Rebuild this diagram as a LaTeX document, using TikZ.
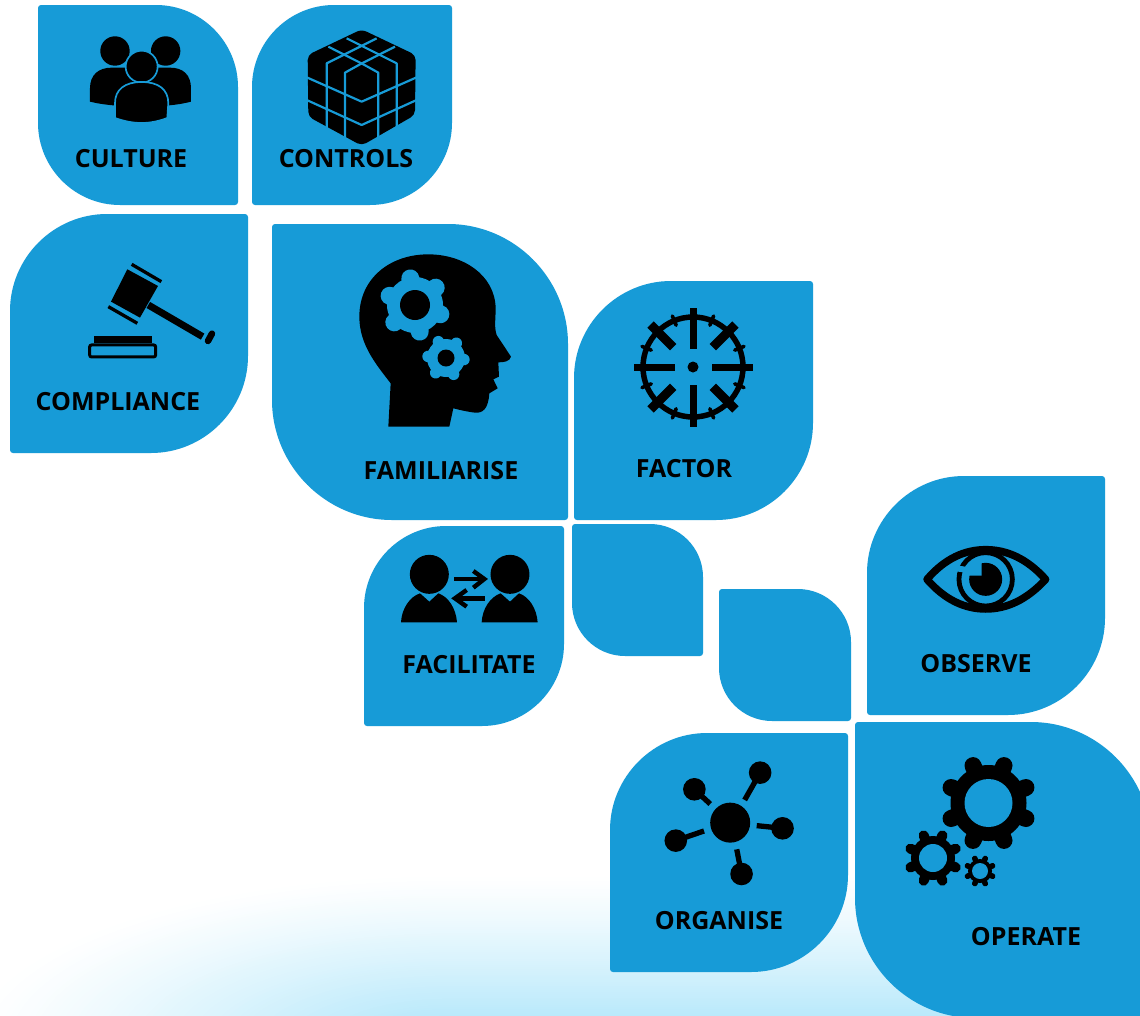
\documentclass[tikz,border=0pt]{standalone}
\usepackage{fontspec}
\setmainfont{Open Sans}
\definecolor{tileblue}{HTML}{179BD7}
\definecolor{glowblue}{HTML}{A9E4FA}
\newcommand\tileA[5]{% large corners top right and bottom left
 \fill[tileblue] ({#1+3},#2) -- ({#3-#5},#2) .. controls ({#3-.45*#5},#2) and (#3,{#2+.45*#5}) .. (#3,{#2+#5})
 -- (#3,{#4-3}) .. controls (#3,{#4-1.3}) and ({#3-1.3},#4) .. ({#3-3},#4)
 -- ({#1+#5},#4) .. controls ({#1+.45*#5},#4) and (#1,{#4-.45*#5}) .. (#1,{#4-#5})
 -- (#1,{#2+3}) .. controls (#1,{#2+1.3}) and ({#1+1.3},#2) .. ({#1+3},#2) -- cycle;}
\newcommand\tileB[5]{% large corners top left and bottom right
 \fill[tileblue] ({#1+#5},#2) -- ({#3-3},#2) .. controls ({#3-1.3},#2) and (#3,{#2+1.3}) .. (#3,{#2+3})
 -- (#3,{#4-#5}) .. controls (#3,{#4-.45*#5}) and ({#3-.45*#5},#4) .. ({#3-#5},#4)
 -- ({#1+3},#4) .. controls ({#1+1.3},#4) and (#1,{#4-1.3}) .. (#1,{#4-3})
 -- (#1,{#2+#5}) .. controls (#1,{#2+.45*#5}) and ({#1+.45*#5},#2) .. ({#1+#5},#2) -- cycle;}
% cx cy body tooth-end hole n rot width fg
\newcommand\gearicon[9]{%
 \fill[#9] (#1,#2) circle[radius=#3pt];
 \pgfmathsetmacro\gstep{360/#6}
 \foreach \k in {1,...,#6}{
  \pgfmathsetmacro\ga{#7+\k*\gstep}
  \draw[#9,line width=#8pt,line cap=round] (#1,#2) -- ($(#1,#2)+(\ga:#4)$);
 }
 \fill[\gearbg] (#1,#2) circle[radius=#5pt];}
\usetikzlibrary{calc}
\tikzset{tilelabel/.style={font=\bfseries\fontsize{25}{25}\selectfont,text=black,inner sep=0pt},
 zoomed/.style={x=0.3333pt,y=-0.3333pt}}
\begin{document}
\begin{tikzpicture}[x=1pt,y=-1pt]
\useasboundingbox (0,0) rectangle (1140,1015);
\clip (0,0) rectangle (1140,1015);
\fill[white] (0,0) rectangle (1140,1015);
% background glow: nested opaque shapes from white to the glow colour
\foreach \i in {1,...,80}{
 \pgfmathsetmacro\s{1-\i/80}
 \pgfmathsetmacro\p{100*(\i/80)^1.2}
 \pgfmathsetmacro\ra{480*\s+2}
 \pgfmathsetmacro\rb{168*\s+2}
 \fill[glowblue!\p!white] (1200,{1045-\rb}) -- (450,{1045-\rb}) .. controls ({450-.55*\ra},{1045-\rb}) and ({450-\ra},{1045-.55*\rb}) .. ({450-\ra},1045) -- ({450-\ra},1100) -- (1200,1100) -- cycle;
}
% tiles
\tileA{38}{5}{238}{205}{82}
\tileB{252}{5}{452}{205}{82}
\tileB{10}{214}{248}{453}{97}
\tileA{272}{224}{568}{520}{120}
\tileB{574}{281}{813}{520}{97}
\tileB{364}{526}{564}{726}{82}
\tileA{572}{524}{703}{656}{53}
\tileA{719}{589}{851}{721}{53}
\tileB{867}{476}{1105}{715}{97}
\tileB{610}{733}{848}{972}{97}
\tileA{855}{722}{1151}{1018}{120}
% labels
\node[tilelabel] (culture) at (131,159) {CULTURE};
\node[tilelabel] (controls) at (346,159) {CONTROLS};
\node[tilelabel] (compliance) at (118,402) {COMPLIANCE};
\node[tilelabel] (familiarise) at (441,471) {FAMILIARISE};
\node[tilelabel] (factor) at (684,469) {FACTOR};
\node[tilelabel] (facilitate) at (469,665) {FACILITATE};
\node[tilelabel] (observe) at (976,664) {OBSERVE};
\node[tilelabel] (organise) at (719,921) {ORGANISE};
\node[tilelabel] (operate) at (1026,937) {OPERATE};
% culture icon
\begin{scope}[zoomed]
 \fill (345,153) circle[radius=14.7pt];
 \fill (497,153) circle[radius=14.7pt];
 \fill (270,305) -- (270,265) .. controls (270,225) and (295,203) .. (335,203) -- (510,203) .. controls (550,203) and (573,225) .. (573,265) -- (573,305) .. controls (500,325) and (350,325) .. (270,305) -- cycle;
 \filldraw[draw=tileblue,line width=1.7pt] (425,200) circle[radius=16pt];
 \filldraw[draw=tileblue,line width=1.7pt] (345,354) -- (345,310) .. controls (345,268) and (375,246) .. (425,246) .. controls (475,246) and (505,268) .. (505,310) -- (502,354) .. controls (450,374) and (400,374) .. (345,354) -- cycle;
\end{scope}
% cube icon
\begin{scope}[shift={(295,20)},zoomed]
 \fill[rounded corners=5pt] (200,28) -- (362,105) -- (360,285) -- (200,377) -- (40,290) -- (38,105) -- cycle;
 \begin{scope}[draw=tileblue,line width=2.2pt,line join=round]
 \draw (155,55) -- (305,130) -- (305,340);
 \draw (245,55) -- (95,130) -- (95,340);
 \draw (100,80) -- (205,133) -- (250,158) -- (250,380);
 \draw (300,80) -- (195,133) -- (150,158) -- (150,380);
 \draw (35,172) -- (200,245) -- (365,172);
 \draw (35,240) -- (200,315) -- (365,240);
 \end{scope}
\end{scope}
% gavel icon
\begin{scope}[zoomed]
 \fill (382,808) -- (474,858) -- (420,953) -- (333,905) -- cycle;
 \draw[line width=3.3pt] (395,793) -- (484,845);
 \draw[line width=3.3pt] (325,920) -- (412,970);
 \draw[line width=7pt] (445,915) -- (608,1010);
 \draw[line width=6.5pt,line cap=round] (636,1001) -- (624,1023);
 \fill (282,1007) rectangle (455,1030);
 \draw[line width=3pt,rounded corners=2pt,fill=tileblue] (269,1035) rectangle (467,1071);
\end{scope}
% head icon
\begin{scope}[shift={(350,245)},zoomed]
 \fill (115,545) -- (122,415) .. controls (80,360) and (28,300) .. (28,215) .. controls (28,100) and (120,28) .. (235,28) .. controls (340,28) and (435,90) .. (437,190) .. controls (437,225) and (432,245) .. (440,270) -- (483,335) .. controls (480,350) and (460,352) .. (445,352) -- (447,395) -- (430,403) -- (443,430) -- (418,445) .. controls (415,490) and (400,505) .. (375,503) .. controls (350,500) and (330,495) .. (310,490) -- (298,545) -- cycle;
\end{scope}
\def\gearbg{black}
\gearicon{415}{305}{28}{27}{15}{6}{80}{18}{tileblue}
\gearicon{446}{358}{19}{18}{8.5}{6}{65}{11.5}{tileblue}
% target icon
\begin{scope}[line width=7pt]
 \draw[line width=5.5pt] (693,367) circle[radius=50pt];
 \draw (634,367) -- (675,367);
 \draw (712,367) -- (753,367);
 \draw (693,308) -- (693,349);
 \draw (693,385) -- (693,427);
 \foreach \a in {45,135,225,315}{
  \draw[line width=9pt] ($(693,367)+(\a:28)$) -- ($(693,367)+(\a:60)$);
 }
 \foreach \a in {22,68,112,158,202,248,292,338}{
  \draw[line width=3.6pt,line cap=round] ($(693,367)+(\a:45)$) -- ($(693,367)+(\a:55)$);
 }
 \fill (693,367) circle[radius=5.5pt];
\end{scope}
% facilitate icon
\begin{scope}[shift={(395,545)},zoomed]
 \fill (103,88) circle[radius=19.5pt];
 \fill (345,88) circle[radius=19.5pt];
 \fill (18,232) .. controls (20,190) and (45,155) .. (75,145) -- (103,170) -- (130,145) .. controls (160,155) and (183,190) .. (186,232) -- cycle;
 \fill (260,232) .. controls (262,190) and (287,155) .. (317,145) -- (345,170) -- (372,145) .. controls (402,155) and (425,190) .. (428,232) -- cycle;
 \draw[line width=4.4pt] (178,102) -- (264,102);
 \draw[line width=4.4pt] (235,78) -- (268,102) -- (235,128);
 \draw[line width=4.4pt] (270,160) -- (184,160);
 \draw[line width=4.4pt] (215,135) -- (180,160) -- (215,185);
\end{scope}
% eye icon
\begin{scope}[shift={(915,535)},zoomed]
 \draw[line width=7.5pt,line join=round] (36,133) .. controls (90,70) and (150,44) .. (212,44) .. controls (275,44) and (335,70) .. (392,133) .. controls (335,195) and (275,222) .. (212,222) .. controls (150,222) and (90,195) .. (36,133) -- cycle;
 \draw[line width=4.8pt] (212,133) circle[radius=26.7pt];
 \draw[tileblue,line width=6pt] (112,98) -- (150,104);
 \fill (212,133) circle[radius=16.5pt];
 \fill[tileblue] (160,122) -- (200,122) -- (200,80) -- (175,80) -- cycle;
\end{scope}
% network icon (crop scale 2.904 across, 3 down)
\begin{scope}[shift={(600,500)},x=0.3444pt,y=-0.3333pt]
 \fill (378,968) circle[radius=20pt];
 \foreach \nx/\ny/\ex/\ey in {465/818/420/900,274/868/320/912,530/985/455/977,220/1022/302/993,411/1122/397/1048}{
  \fill (\nx,\ny) circle[radius=11.3pt];
  \draw[line width=5.3pt] (\nx,\ny) -- (\ex,\ey);
 }
\end{scope}
% operate gears
\def\gearbg{tileblue}
\gearicon{988.5}{803}{38}{40.5}{24}{8}{22.5}{17}{black}
\gearicon{933}{858}{22}{24.5}{14}{8}{22.5}{10}{black}
\gearicon{980}{871}{12}{13.7}{8}{8}{22.5}{5.5}{black}
\end{tikzpicture}
\end{document}
